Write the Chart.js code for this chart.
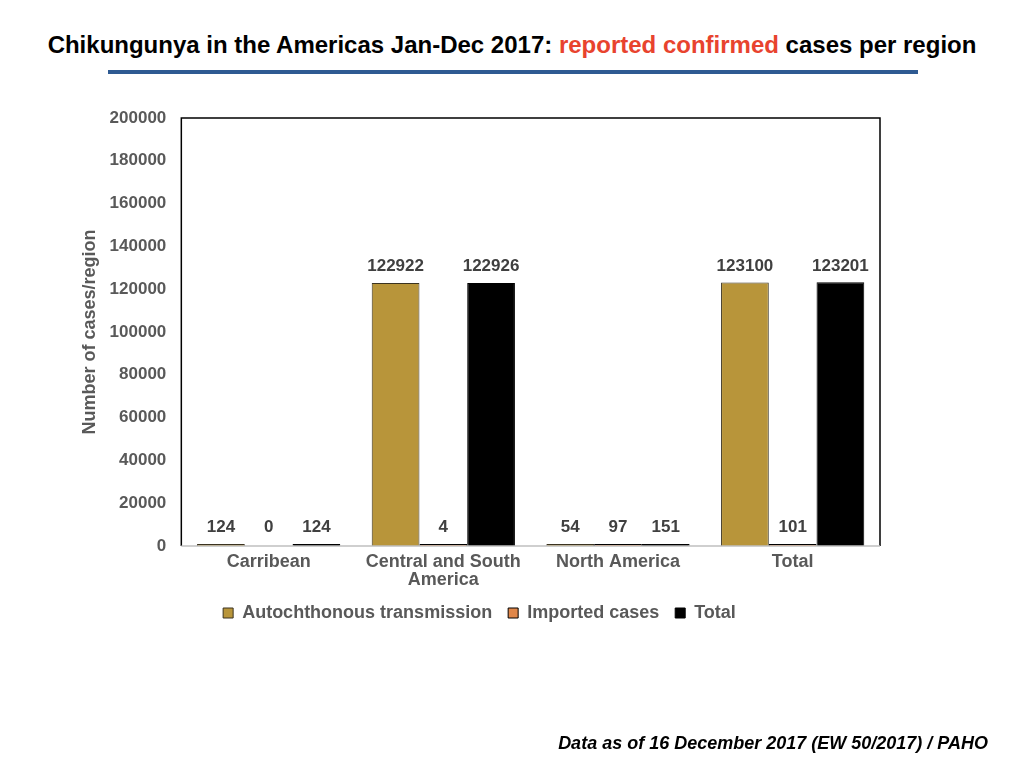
<!DOCTYPE html>
<html>
<head>
<meta charset="utf-8">
<script src="https://cdn.jsdelivr.net/npm/chart.js@4.4.0/dist/chart.umd.min.js"></script>
<style>
    body { margin: 0; background: #fff; font-family: "Liberation Sans", Arial, sans-serif; }
    #wrap { position: relative; width: 1024px; height: 768px; overflow: hidden; }
    #title { position: absolute; top: 31px; left: 0; width: 1024px; text-align: center; font-weight: bold; font-size: 24px; color: #000; }
    #title .red { color: #E8432E; }
    #rule { position: absolute; top: 70px; left: 108px; width: 810px; height: 4px; background: #2E5A92; }
    #note { position: absolute; top: 733px; right: 36px; font-weight: bold; font-style: italic; font-size: 18px; color: #000; }
    #chart { position: absolute; top: 0; left: 0; }
</style>
</head>
<body>
<div id="wrap">
    <div id="title">Chikungunya in the Americas Jan-Dec 2017: <span class="red">reported confirmed</span> cases per region</div>
    <div id="rule"></div>
    <canvas id="chart" width="1024" height="768"></canvas>
    <div id="note">Data as of 16 December 2017 (EW 50/2017) / PAHO</div>
</div>
<script>
// data
const regions = ["Carribean", ["Central and South", "America"], "North America", "Total"];
const autochthonous = [124, 122922, 54, 123100];
const imported = [0, 4, 97, 101];
const totals = [124, 122926, 151, 123201];
const yTicks = [0, 20000, 40000, 60000, 80000, 100000, 120000, 140000, 160000, 180000, 200000];

const grey = "#595959";
const fam = "'Liberation Sans', Arial, sans-serif";

// zero values get no visible stub
const ifNonZero = (col) => (c) => (c.raw === 0 ? "rgba(0,0,0,0)" : col);

// value labels above each bar
const barLabels = {
    id: "barLabels",
    afterDatasetsDraw(chart) {
        const ctx = chart.ctx;
        ctx.save();
        ctx.font = "bold 17px " + fam;
        ctx.fillStyle = "#404040";
        ctx.textAlign = "center";
        ctx.textBaseline = "bottom";
        const base = chart.scales.y.getPixelForValue(0);
        chart.data.datasets.forEach((ds, i) => {
            chart.getDatasetMeta(i).data.forEach((bar, j) => {
                const top = Math.min(bar.y, base - 1);
                ctx.fillText(ds.data[j], bar.x, top - 8);
            });
        });
        ctx.restore();
    }
};

// box round the plot area; also let the two-line x label hang below the axis box
const plotBox = {
    id: "plotBox",
    afterLayout(chart) {
        chart.scales.x.bottom += 14;
    },
    afterDraw(chart) {
        const a = chart.chartArea;
        const ctx = chart.ctx;
        ctx.save();
        ctx.strokeStyle = "#000";
        ctx.lineWidth = 1.5;
        ctx.beginPath();
        ctx.moveTo(a.left, a.bottom);
        ctx.lineTo(a.left, a.top);
        ctx.lineTo(a.right, a.top);
        ctx.lineTo(a.right, a.bottom);
        ctx.stroke();
        ctx.strokeStyle = "#BFBFBF";
        ctx.beginPath();
        ctx.moveTo(a.left, a.bottom);
        ctx.lineTo(a.right, a.bottom);
        ctx.stroke();
        ctx.restore();
    }
};

const ctx = document.getElementById("chart").getContext("2d");
new Chart(ctx, {
    type: "bar",
    data: {
        labels: regions,
        datasets: [
            {
                label: "Autochthonous transmission",
                data: autochthonous,
                backgroundColor: "#B8953A",
                borderColor: "#3B3320",
                borderWidth: 1,
            },
            {
                label: "Imported cases",
                data: imported,
                backgroundColor: ifNonZero("#E0874A"),
                borderColor: ifNonZero("#000"),
                borderWidth: 1,
            },
            {
                label: "Total",
                data: totals,
                backgroundColor: "#000",
                borderColor: "#000",
                borderWidth: 1,
            },
        ],
    },
    options: {
        responsive: false,
        animation: false,
        layout: { padding: { left: 79, right: 144, top: 118, bottom: 136 } },
        categoryPercentage: 0.82,
        barPercentage: 1,
        minBarLength: 2,
        plugins: {
            legend: {
                position: "bottom",
                labels: {
                    boxWidth: 10,
                    boxHeight: 10,
                    padding: 16,
                    color: grey,
                    font: { family: fam, size: 18, weight: "bold" },
                    generateLabels(chart) {
                        return chart.data.datasets.map((ds, i) => ({
                            text: ds.label,
                            fillStyle: ["#B8953A", "#E0874A", "#000"][i],
                            strokeStyle: ["#3B3320", "#000", "#000"][i],
                            lineWidth: 1,
                            fontColor: grey,
                            datasetIndex: i,
                        }));
                    },
                },
            },
            tooltip: { enabled: false },
        },
        scales: {
            y: {
                min: 0,
                max: 200000,
                afterBuildTicks(axis) {
                    axis.ticks = yTicks.map((v) => ({ value: v }));
                },
                grid: { display: false, drawTicks: false },
                border: { display: false },
                ticks: {
                    padding: 15,
                    color: grey,
                    callback: (v) => String(v),
                    font: { family: fam, size: 17, weight: "bold" },
                },
                title: {
                    display: true,
                    text: "Number of cases/region",
                    color: grey,
                    padding: { top: 0, bottom: -6 },
                    font: { family: fam, size: 18, weight: "bold" },
                },
            },
            x: {
                afterFit(scale) {
                    scale.height = 42;
                },
                grid: { display: false, drawTicks: false },
                border: { display: false },
                ticks: {
                    padding: 7,
                    color: grey,
                    font: { family: fam, size: 18, weight: "bold", lineHeight: 1.0 },
                },
            },
        },
    },
    plugins: [barLabels, plotBox],
});
</script>
</body>
</html>
